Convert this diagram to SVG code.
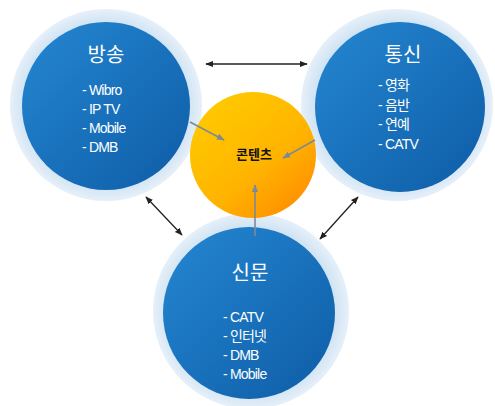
<svg xmlns="http://www.w3.org/2000/svg" width="495" height="406" viewBox="0 0 495 406">
<style>
.title{font-family:"Noto Sans CJK KR","Liberation Sans",sans-serif;font-size:20px;fill:#fff;text-anchor:middle}
.item{font-family:"Liberation Sans","Noto Sans CJK KR",sans-serif;font-size:14px;fill:#fff;letter-spacing:-0.8px}
.center{font-family:"Noto Sans CJK KR",sans-serif;font-size:13px;font-weight:bold;fill:#111;text-anchor:middle}
.dbl{stroke:#222;stroke-width:1.3;fill:none;marker-start:url(#ab);marker-end:url(#ab)}
.gray{stroke:#7d8a96;stroke-width:1.6;fill:none;marker-end:url(#ag)}
</style>
<defs>
<radialGradient id="ring" cx="0.5" cy="0.5" r="0.5">
<stop offset="0.85" stop-color="#cfe3f3"/>
<stop offset="1" stop-color="#e6f0f9"/>
</radialGradient>
<linearGradient id="blue" x1="0" y1="0" x2="1" y2="1">
<stop offset="0" stop-color="#2587d2"/>
<stop offset="1" stop-color="#0e5ca6"/>
</linearGradient>
<linearGradient id="orange" x1="0.2" y1="0.1" x2="0.9" y2="0.95">
<stop offset="0" stop-color="#ffc800"/>
<stop offset="0.55" stop-color="#ffb400"/>
<stop offset="1" stop-color="#ff8c00"/>
</linearGradient>
<marker id="ab" viewBox="0 0 10 10" refX="9" refY="5" markerWidth="6" markerHeight="6" orient="auto-start-reverse" markerUnits="strokeWidth">
<path d="M0,1 L10,5 L0,9 z" fill="#222"/>
</marker>
<marker id="ag" viewBox="0 0 10 10" refX="9" refY="5" markerWidth="5" markerHeight="5" orient="auto" markerUnits="strokeWidth">
<path d="M0,1 L10,5 L0,9 z" fill="#7d8a96"/>
</marker>
</defs>
<rect width="495" height="406" fill="#fff"/>
<g id="node-broadcast">
<circle cx="106" cy="105" r="96" fill="url(#ring)"/>
<circle cx="106" cy="106" r="84" fill="url(#blue)"/>
<text class="title" x="106" y="62">방송</text>
<text class="item" x="82" y="95">- Wibro</text>
<text class="item" x="82" y="114">- IP TV</text>
<text class="item" x="82" y="133">- Mobile</text>
<text class="item" x="82" y="152">- DMB</text>
</g>
<g id="node-telecom">
<circle cx="397" cy="105" r="96" fill="url(#ring)"/>
<circle cx="400" cy="107" r="85" fill="url(#blue)"/>
<text class="title" x="403" y="62">통신</text>
<text class="item" x="378" y="90">- 영화</text>
<text class="item" x="378" y="110">- 음반</text>
<text class="item" x="378" y="129">- 연예</text>
<text class="item" x="378" y="149">- CATV</text>
</g>
<g id="node-newspaper">
<circle cx="251" cy="311" r="98" fill="url(#ring)"/>
<circle cx="249" cy="313" r="86" fill="url(#blue)"/>
<text class="title" x="250" y="280">신문</text>
<text class="item" x="223" y="322">- CATV</text>
<text class="item" x="223" y="341">- 인터넷</text>
<text class="item" x="223" y="360">- DMB</text>
<text class="item" x="223" y="379">- Mobile</text>
</g>
<g id="node-contents">
<circle cx="253" cy="155" r="63" fill="url(#orange)"/>
<text class="center" x="254" y="159">콘텐츠</text>
</g>
<g id="connectors">
<line class="dbl" x1="206" y1="64" x2="307" y2="64"/>
<line class="dbl" x1="146" y1="197" x2="182" y2="235"/>
<line class="dbl" x1="320" y1="239" x2="358" y2="197"/>
<line class="gray" x1="190" y1="122" x2="224" y2="140"/>
<line class="gray" x1="315" y1="140" x2="283" y2="158"/>
<line class="gray" x1="255" y1="236" x2="255" y2="185"/>
</g>
</svg>
